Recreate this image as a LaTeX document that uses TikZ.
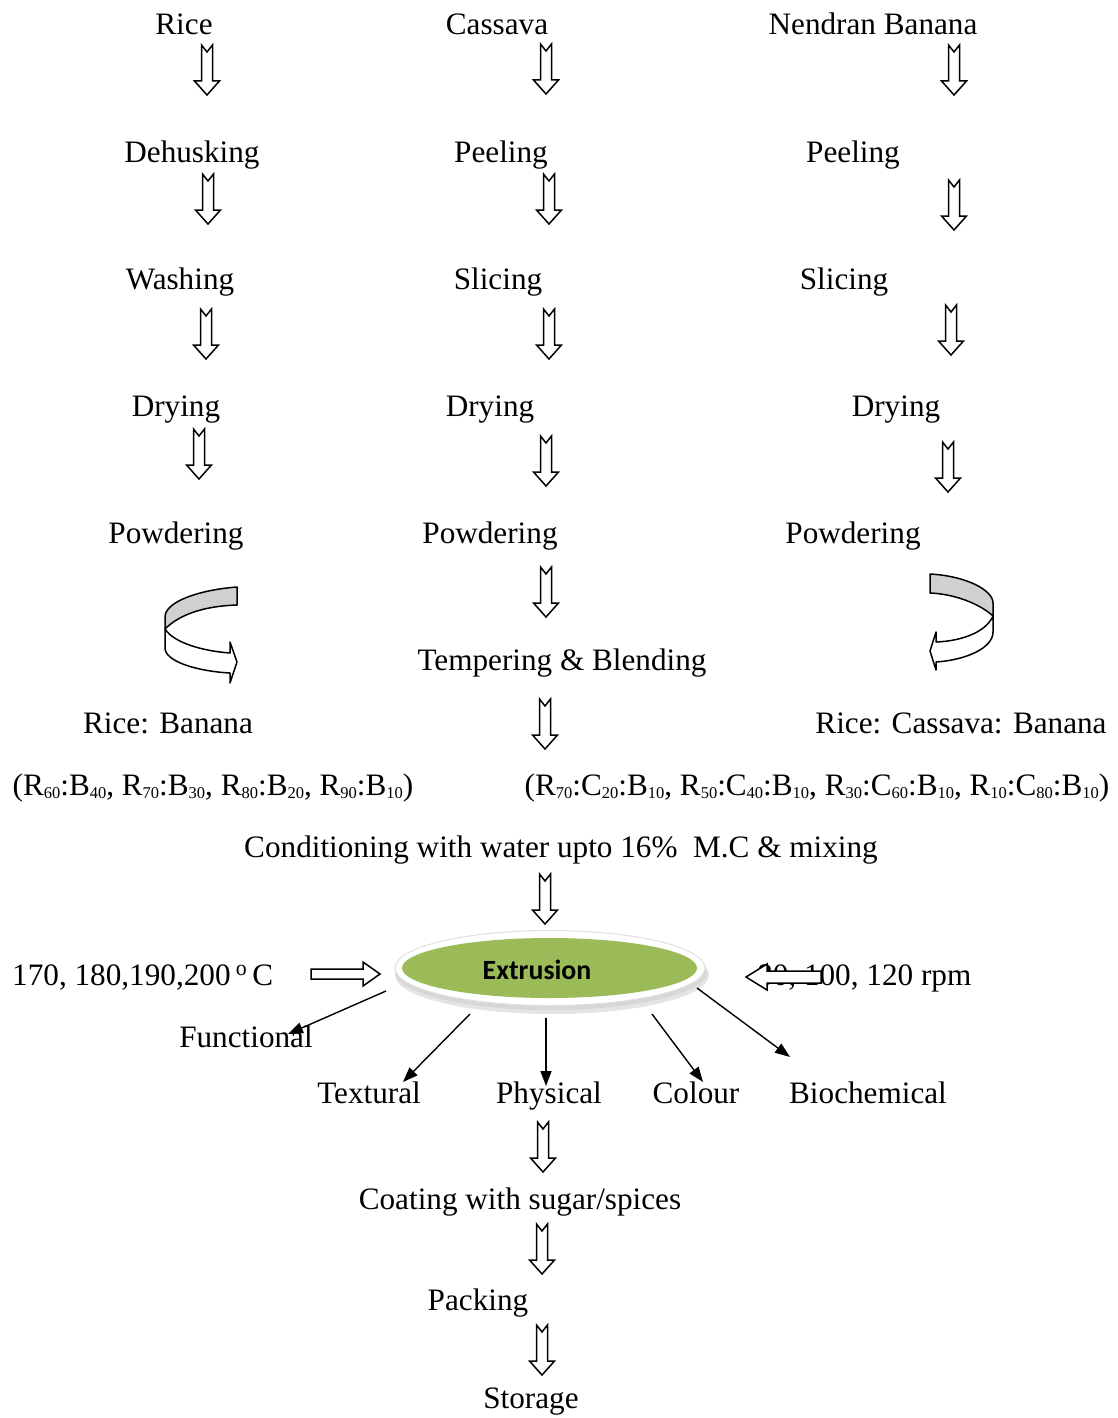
\documentclass[tikz,border=0pt]{standalone}
\usepackage{fontspec}
\setmainfont{Liberation Serif}
\newfontfamily\calibrifont{Carlito}
\usetikzlibrary{arrows.meta,shapes.geometric}

\definecolor{extgreen}{RGB}{155,187,89}
\definecolor{ribbongray}{RGB}{208,208,208}

% small lowered index for the blend ratios
\newcommand\ratioidx[1]{\raisebox{-3pt}{\fontsize{16.5}{18}\selectfont #1}}

\tikzset{
  lbl/.style={font=\fontsize{31.2}{36}\selectfont, inner sep=0pt, anchor=base},
  hollow/.style={draw=black, line width=1.5pt, fill=white, line join=miter},
  thinarrow/.style={line width=1.4pt, -{Triangle[length=15pt,width=11pt]}},
  ribbon/.style={draw=black, line width=1.5pt, line join=round},
  pics/blkdown/.style={code={
    \draw[hollow] (-5.5,0) -- (0,7) -- (5.5,0) -- (5.5,36) -- (12.5,36)
      -- (0,50) -- (-12.5,36) -- (-5.5,36) -- cycle;}},
  pics/blkright/.style={code={
    \draw[hollow] (0,-5) -- (52,-5) -- (52,-12) -- (69,0) -- (52,12)
      -- (52,5) -- (0,5) -- cycle;}},
  pics/blkleft/.style={code={
    \draw[hollow] (0,0) -- (21,-13) -- (21,-6) -- (75,-6) -- (75,6)
      -- (21,6) -- (21,13) -- cycle;}},
}

\begin{document}
\begin{tikzpicture}[x=1pt,y=-1pt]
\useasboundingbox (0,0) rectangle (1117,1418);

% ---- raw materials and their preparation ----
\node[lbl] (rice)   at (184,35)  {Rice};
\node[lbl] (cas)    at (497,35)  {Cassava};
\node[lbl] (ban)    at (873,35)  {Nendran Banana};

\node[lbl] (dehusk) at (192,162) {Dehusking};
\node[lbl] (peelc)  at (501,162) {Peeling};
\node[lbl] (peelb)  at (853,162) {Peeling};

\node[lbl] (wash)   at (180,289) {Washing};
\node[lbl] (slicec) at (498,289) {Slicing};
\node[lbl] (sliceb) at (844,289) {Slicing};

\node[lbl] (dryr)   at (176,416) {Drying};
\node[lbl] (dryc)   at (490,416) {Drying};
\node[lbl] (dryb)   at (896,416) {Drying};

\node[lbl] (powr)   at (176,543) {Powdering};
\node[lbl] (powc)   at (490,543) {Powdering};
\node[lbl] (powb)   at (853,543) {Powdering};

\node[lbl] (temper) at (562,670) {Tempering \& Blending};

\node[lbl] (rb)     at (168,733) {Rice: Banana};
\node[lbl] (rcb)    at (961,733) {Rice: Cassava: Banana};

\node[lbl] (ratrb)  at (213,795) {(R\ratioidx{60}:B\ratioidx{40}, R\ratioidx{70}:B\ratioidx{30}, R\ratioidx{80}:B\ratioidx{20}, R\ratioidx{90}:B\ratioidx{10})};
\node[lbl] (ratrcb) at (817,795) {(R\ratioidx{70}:C\ratioidx{20}:B\ratioidx{10}, R\ratioidx{50}:C\ratioidx{40}:B\ratioidx{10}, R\ratioidx{30}:C\ratioidx{60}:B\ratioidx{10}, R\ratioidx{10}:C\ratioidx{80}:B\ratioidx{10})};

\node[lbl] (cond)   at (561,857) {Conditioning with water upto 16\%\ \ M.C \& mixing};

% ---- block arrows between the steps ----
\pic at (207,45)  {blkdown};
\pic at (546,44)  {blkdown};
\pic at (954,45)  {blkdown};
\pic at (208,174) {blkdown};
\pic at (549,174) {blkdown};
\pic at (954,180) {blkdown};
\pic at (206,309) {blkdown};
\pic at (549,309) {blkdown};
\pic at (951,305) {blkdown};
\pic at (199,429) {blkdown};
\pic at (546,436) {blkdown};
\pic at (948,442) {blkdown};
\pic at (546,567) {blkdown};
\pic at (545,699) {blkdown};
\pic at (545,874) {blkdown};

% ---- curved ribbon arrow, rice side ----
\draw[ribbon, fill=ribbongray]
  (237,587) .. controls (198,590) and (165,602) .. (165,617) -- (165,629)
  .. controls (180,614) and (205,606) .. (237,605) -- cycle;
\draw[ribbon, fill=white]
  (165,629) .. controls (174,643) and (203,651) .. (230,653)
  -- (230,642) -- (237,662) -- (230,683) -- (230,673)
  .. controls (195,671) and (165,661) .. (165,648) -- cycle;

% ---- curved ribbon arrow, banana side ----
\draw[ribbon, fill=ribbongray]
  (930,574) .. controls (966,576) and (993,590) .. (993,603) -- (993,616)
  .. controls (980,604) and (955,594) .. (930,593) -- cycle;
\draw[ribbon, fill=white]
  (993,616) .. controls (986,632) and (962,641) .. (936,642)
  -- (936,632) -- (930,651) -- (936,670) -- (936,662)
  .. controls (966,660) and (993,648) .. (993,632) -- cycle;

% ---- extruder ----
\fill[black!30, opacity=0.35] (552,975) ellipse [x radius=157, y radius=39];
\fill[black!25, opacity=0.35] (551,972) ellipse [x radius=156, y radius=38];
\filldraw[fill=white, draw=black!12, line width=1pt] (550,968) ellipse [x radius=155, y radius=37.5];
\fill[extgreen] (549.5,968) ellipse [x radius=147.5, y radius=30];
\node[font=\calibrifont\bfseries\fontsize{27.8}{32}\selectfont, inner sep=0pt]
  (ext) at (537,970) {Extrusion};

\node[lbl, anchor=base west] (temp) at (12,985) {170, 180,190,200\,\textsuperscript{o}\,C};
\node[lbl, anchor=base west] (rpm)  at (757,985) {80, 100, 120 rpm};
\pic at (311,974) {blkright};
\pic at (746,977) {blkleft};

% ---- quality attributes ----
\node[lbl] (func)  at (246,1047) {Functional};
\node[lbl] (text)  at (369,1103) {Textural};
\node[lbl] (phys)  at (549,1103) {Physical};
\node[lbl] (col)   at (696,1103) {Colour};
\node[lbl] (bio)   at (868,1103) {Biochemical};

\coordinate (ofunc) at (386,991);
\coordinate (otext) at (470,1014);
\coordinate (ophys) at (546,1018);
\coordinate (ocol)  at (652,1014);
\coordinate (obio)  at (697,988);
\coordinate (efunc) at (288,1034);
\coordinate (etext) at (403,1082);
\coordinate (ephys) at (546,1086);
\coordinate (ecol)  at (703,1082);
\coordinate (ebio)  at (790,1057);
\draw[thinarrow] (ofunc) -- (efunc);
\draw[thinarrow] (otext) -- (etext);
\draw[thinarrow] (ophys) -- (ephys);
\draw[thinarrow] (ocol)  -- (ecol);
\draw[thinarrow] (obio)  -- (ebio);

% ---- finishing ----
\node[lbl] (coat)  at (520,1209) {Coating with sugar/spices};
\node[lbl] (pack)  at (478,1310) {Packing};
\node[lbl] (store) at (531,1408) {Storage};

\pic at (543,1122) {blkdown};
\pic at (542,1224) {blkdown};
\pic at (542,1325) {blkdown};
\end{tikzpicture}
\end{document}
